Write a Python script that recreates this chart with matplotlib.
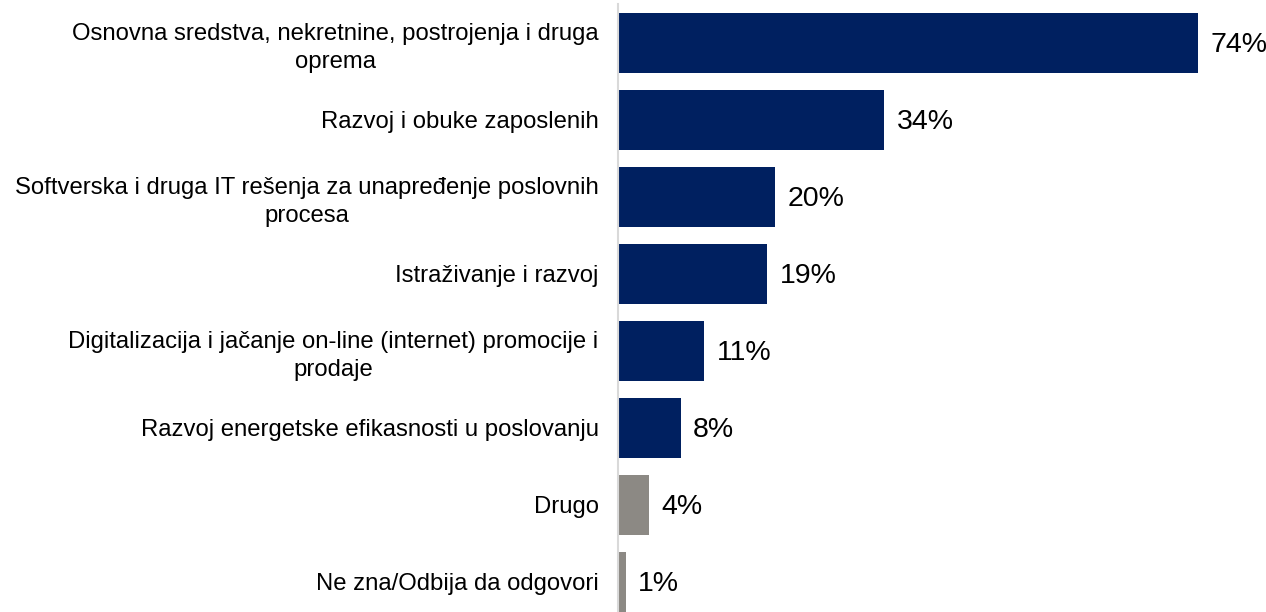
import matplotlib.pyplot as plt

categories = [
    'Osnovna sredstva, nekretnine, postrojenja i druga\noprema',
    'Razvoj i obuke zaposlenih',
    'Softverska i druga IT rešenja za unapređenje poslovnih\nprocesa',
    'Istraživanje i razvoj',
    'Digitalizacija i jačanje on-line (internet) promocije i\nprodaje',
    'Razvoj energetske efikasnosti u poslovanju',
    'Drugo',
    'Ne zna/Odbija da odgovori',
]
values = [74, 34, 20, 19, 11, 8, 4, 1]
value_labels = ['74%', '34%', '20%', '19%', '11%', '8%', '4%', '1%']

NAVY = '#002060'
GREY = '#8C8984'
colors = [NAVY] * 6 + [GREY] * 2

plt.rcParams['font.family'] = ['Liberation Sans', 'DejaVu Sans']

fig = plt.figure(figsize=(12.66, 6.12), dpi=100)
ax = fig.add_axes([618 / 1266, 0.0, 1 - 618 / 1266, 1 - 4.5 / 612])

y = list(range(len(categories)))
ax.barh(y, values, height=0.78, color=colors)

for yi, v, lab in zip(y, values, value_labels):
    ax.annotate(lab, (v, yi), xytext=(9, -1.5), textcoords='offset points',
                va='center', ha='left', fontsize=20.5, color='black')

ax.set_xlim(0, 82.7)
ax.set_ylim(7.39, -0.5)

ax.set_yticks(y)
ax.set_yticklabels(categories, fontsize=17.2)
for t in ax.get_yticklabels():
    t.set_multialignment('center')
    t.set_linespacing(1.3)
ax.tick_params(axis='y', length=0, pad=14)
ax.set_xticks([])

for side in ['top', 'right', 'bottom']:
    ax.spines[side].set_visible(False)
ax.spines['left'].set_color('#D9D9D9')
ax.spines['left'].set_linewidth(1.5)

fig.savefig('out.png', dpi=100)
